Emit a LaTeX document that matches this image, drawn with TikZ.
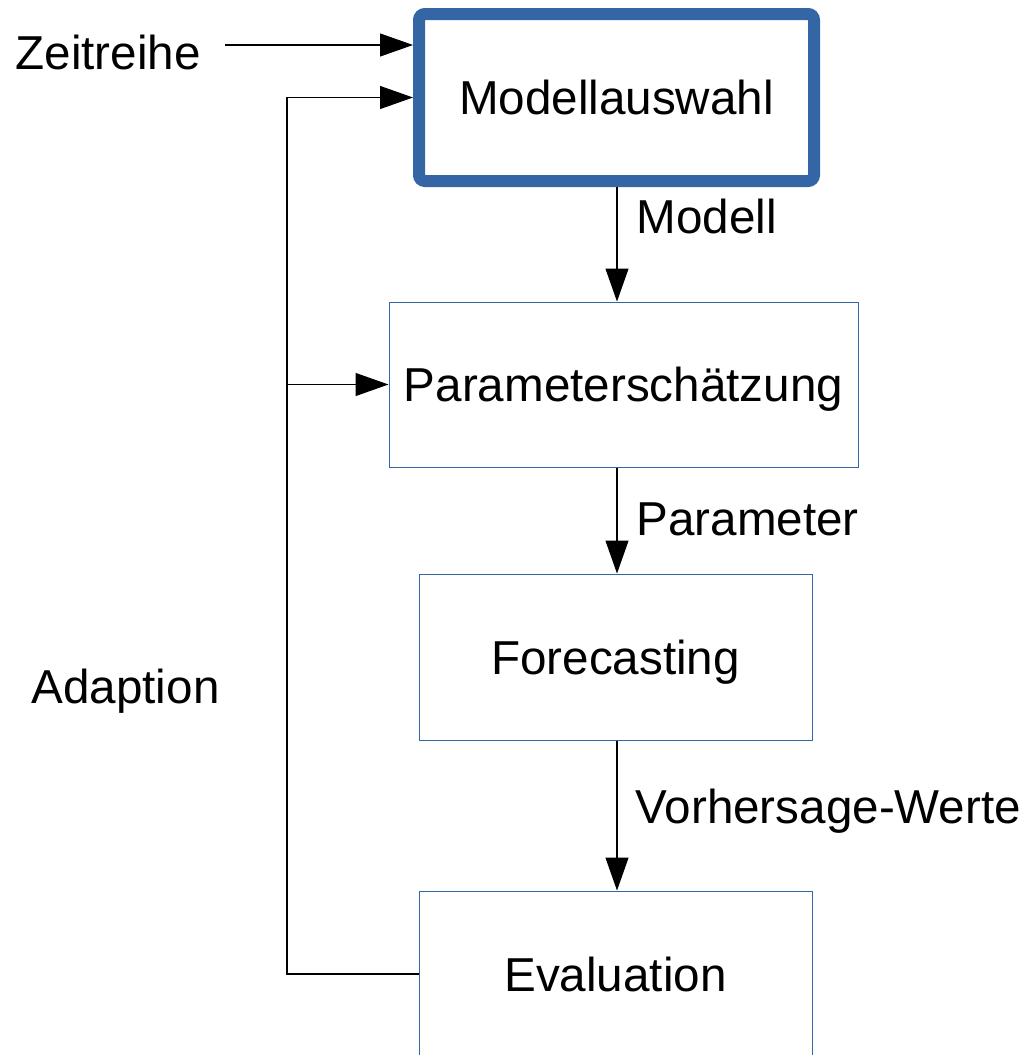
\documentclass[tikz,border=0pt]{standalone}
\usepackage{fontspec}
\setmainfont{Liberation Sans}
\usetikzlibrary{arrows.meta}
\definecolor{boxblue}{RGB}{52,101,164}
\tikzset{every picture/.style={line width=1.2pt}}
\tikzset{
  stepbox/.style={draw=boxblue, line width=1pt, text height=34pt, text depth=0pt, inner sep=0pt, font=\fontsize{47.6}{56}\selectfont},
  mainbox/.style={stepbox, line width=12pt, rounded corners=6pt},
  lbl/.style={anchor=base west, inner sep=0pt, font=\fontsize{47.6}{56}\selectfont},
  arr/.style={-{Triangle[length=33pt,width=23pt]}}
}

\begin{document}
\begin{tikzpicture}[x=1pt,y=1pt,yscale=-1,xscale=1]
\useasboundingbox (0,0) rectangle (1026,1055);
\clip (0,0) rectangle (1026,1055);

%Shape: Rectangle [id:auswahl]
\node (auswahl) at (616.5,97.5) [mainbox, minimum width=395pt, minimum height=167pt] {Modellauswahl};
%Shape: Rectangle [id:schaetzung]
\node (schaetzung) at (623.5,384.5) [stepbox, minimum width=469pt, minimum height=165pt] {Parameterschätzung};
%Shape: Rectangle [id:forecast]
\node (forecast) at (615.5,657) [stepbox, minimum width=393pt, minimum height=166pt] {Forecasting};
%Shape: Rectangle [id:evaluation]
\node (evaluation) at (615.5,974) [stepbox, minimum width=393pt, minimum height=166pt] {Evaluation};

% Text Node
\node (zeitreihe) at (15,69) [lbl] {Zeitreihe};
% Text Node
\node (adaption) at (31,703) [lbl] {Adaption};
% Text Node
\node (modell) at (636,233) [lbl] {Modell};
% Text Node
\node (parameter) at (636,535) [lbl] {Parameter};
% Text Node
\node (werte) at (635,823) [lbl] {Vorhersage-Werte};

\coordinate (zstart) at (225,45);
\coordinate (loop) at (287,974);

%Straight Lines [id:zeitreihe]
\draw [arr] (zstart) -- (zstart -| auswahl.west);
%Straight Lines [id:down]
\draw [arr] (617,0 |- auswahl.south) -- (617,0 |- schaetzung.north);
\draw [arr] (617,0 |- schaetzung.south) -- (617,0 |- forecast.north);
\draw [arr] (617,0 |- forecast.south) -- (617,0 |- evaluation.north);
%Straight Lines [id:adaption]
\draw [arr] (evaluation.west) -- (loop) |- (auswahl.west);
\draw [arr] (loop |- schaetzung.west) -- (schaetzung.west);
\end{tikzpicture}
\end{document}
